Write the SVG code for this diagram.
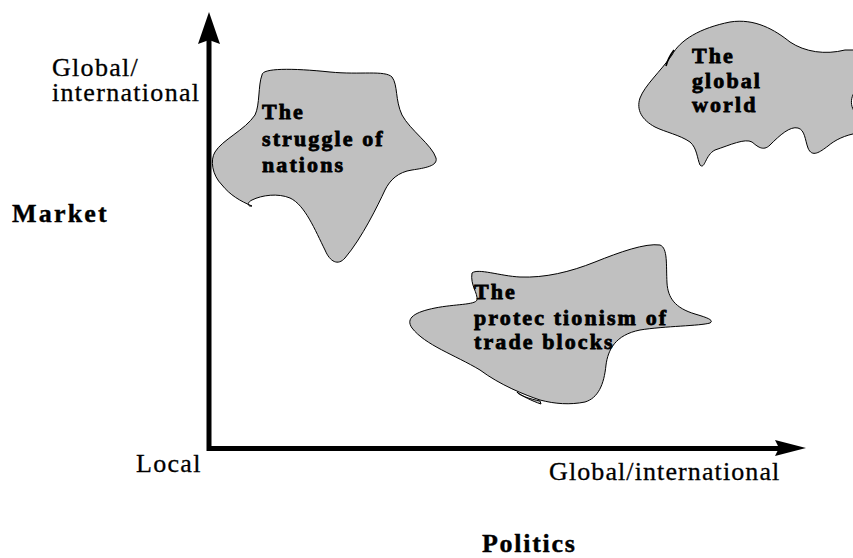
<svg xmlns="http://www.w3.org/2000/svg" width="853" height="558" viewBox="0 0 853 558">
<style>
.blob{fill:#c0c0c0;stroke:#000;stroke-width:1}
.bt{font-family:"Liberation Serif",serif;font-weight:bold;font-size:22px;letter-spacing:2.1px;fill:#000;stroke:#000;stroke-width:0.8px}
.ax{font-family:"Liberation Serif",serif;font-size:26px;letter-spacing:1.3px;fill:#000;stroke:#000;stroke-width:0.3px}
.axb{font-family:"Liberation Serif",serif;font-weight:bold;font-size:26px;fill:#000;stroke:#000;stroke-width:0.4px}
.axis{stroke:#000;stroke-width:5;fill:none}
</style>
<rect width="853" height="558" fill="#fff"/>
<g id="connectors">
<line class="axis" x1="209" y1="451" x2="209" y2="38"/>
<polygon points="209,12 220,44 209,40 198,44" fill="#000"/>
<line class="axis" x1="207" y1="448.5" x2="780" y2="448.5"/>
<polygon points="806,448 775,440 779,448 775,456" fill="#000"/>
</g>
<g id="node-struggle">
<path class="blob" d="M262,75 C262,68 292,68 330,72 C360,75 385,70 392,77 C398,85 395,100 402,115 C410,130 432,145 436,158 C438,166 425,168 412,170 C398,172 390,180 385,190 C378,205 362,238 345,258 C338,266 330,262 325,250 C315,230 305,205 290,198 C278,193 262,195 252,200 C246,203 248,207 252,206 C240,201 230,195 222,185 C212,175 210,160 215,152 C222,140 245,130 255,115 C260,105 258,85 262,75 Z"/>
<text class="bt" x="262" y="119">The</text>
<text class="bt" x="262" y="146">struggle of</text>
<text class="bt" x="262" y="172">nations</text>
</g>
<g id="node-global">
<path class="blob" d="M672,55 C680,40 700,28 730,22 C755,18 775,30 790,42 C805,52 825,55 845,50 L870,50 L870,88 L860,88 C850,92 848,108 858,115 L870,115 L870,133 L858,133 C845,135 835,140 828,146 C820,152 812,158 808,148 C805,140 805,130 798,128 C790,126 780,135 770,145 C763,152 757,146 752,142 C745,138 730,145 715,150 C705,155 705,170 700,165 C697,158 697,148 690,142 C680,135 665,132 655,127 C642,120 636,110 640,98 C645,85 660,72 672,55 Z"/>
<path d="M674,50 Q668,58 666,66" fill="none" stroke="#000" stroke-width="1.6"/>
<text class="bt" x="692" y="63">The</text>
<text class="bt" x="692" y="88">global</text>
<text class="bt" x="692" y="112">world</text>
</g>
<g id="node-protectionism">
<path class="blob" d="M472,273 C478,268 500,276 520,277 C545,278 570,272 595,262 C620,252 645,243 660,245 C668,248 666,265 667,283 C668,298 675,308 695,314 C705,317 715,320 710,323 C700,326 665,326 640,330 C615,335 608,350 606,365 C604,385 598,398 585,402 C570,405 555,404 540,400 C525,395 500,385 480,370 C455,355 425,345 412,328 C405,318 415,312 435,308 C455,304 475,305 477,300 C478,293 470,285 472,273 Z"/>
<path d="M540,401 C530,399 518,395 517,392 C522,396 532,401 541,404 Z" fill="#c0c0c0" stroke="#000" stroke-width="1"/>
<text class="bt" x="474" y="299">The</text>
<text class="bt" x="474" y="325">protec tionism of</text>
<text class="bt" x="474" y="349">trade blocks</text>
</g>
<g id="labels">
<text class="ax" x="52" y="76">Global/</text>
<text class="ax" x="52" y="101">international</text>
<text class="axb" x="12" y="222" style="letter-spacing:2.2px">Market</text>
<text class="ax" x="136" y="472">Local</text>
<text class="ax" x="549" y="480" style="letter-spacing:1.1px">Global/international</text>
<text class="axb" x="482" y="552" style="letter-spacing:1.7px">Politics</text>
</g>
</svg>
